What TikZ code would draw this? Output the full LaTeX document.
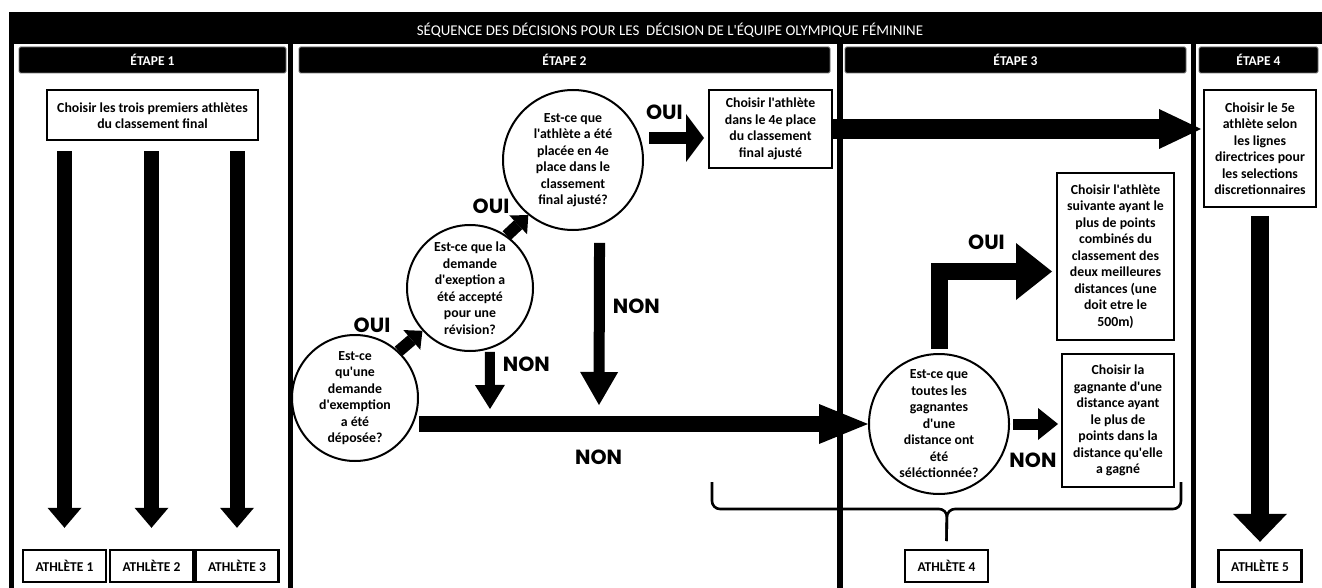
\documentclass[tikz,border=0pt]{standalone}
\usepackage{fontspec}
\setmainfont{Carlito}[Ligatures=TeXOff]
\newfontfamily\ouifont{Poppins}
\usepackage{tikz}
\usetikzlibrary{arrows.meta, positioning}

\begin{document}
\begin{tikzpicture}[x=1pt, y=-1pt]
    % Styles
    \tikzstyle{panneau} = [fill=white, draw=black, line width=0.8pt]
    \tikzstyle{etape} = [rectangle, rounded corners=1.5pt, fill=black, draw=black!55, line width=0.8pt, text=white, minimum height=26pt, text height=11pt, text depth=0pt, font=\fontsize{13.5}{15}\selectfont\bfseries]
    \tikzstyle{choix} = [rectangle, draw=black, line width=2pt, fill=white, align=center, inner sep=0pt, font=\fontsize{13.8}{16.5}\selectfont\bfseries]
    \tikzstyle{athlete} = [rectangle, draw=black, line width=2.4pt, minimum width=83pt, minimum height=32pt, font=\fontsize{13.5}{15}\selectfont\bfseries]
    \tikzstyle{question} = [circle, draw=black, line width=2pt, fill=white, inner sep=0pt]
    \tikzstyle{qtexte} = [align=center, inner sep=0pt, font=\fontsize{13.8}{16.5}\selectfont\bfseries]
    \tikzstyle{reponse} = [inner sep=0pt, font=\ouifont\bfseries\fontsize{20.5}{22}\selectfont]
    \tikzset{bloc/.style n args={3}{line width=#1, -{Triangle[width=#2, length=#3, line width=0pt]}}}

    \useasboundingbox (0,0) rectangle (1322,588);

    % Frame and columns
    \fill[black] (9,12) rectangle (1322,588);
    \draw[panneau] (13,43) rectangle (288,592);
    \draw[panneau] (292,43) rectangle (837,592);
    \draw[panneau] (842,43) rectangle (1191,592);
    \draw[panneau] (1195,43) rectangle (1326,592);

    % Title and headers
    \node[text=white, font=\fontsize{14.9}{16}\selectfont] (titre) at (670,30) {SÉQUENCE DES DÉCISIONS POUR LES~~DÉCISION DE L'ÉQUIPE OLYMPIQUE FÉMININE};
    \node[etape, minimum width=267pt] (e1) at (152.5,60) {ÉTAPE 1};
    \node[etape, minimum width=531pt] (e2) at (564.5,60) {ÉTAPE 2};
    \node[etape, minimum width=341pt] (e3) at (1015.5,60) {ÉTAPE 3};
    \node[etape, minimum width=119pt] (e4) at (1258.5,60) {ÉTAPE 4};

    % Nodes
    \node[choix, minimum width=211pt, minimum height=50pt] (top) at (152.5,115.5) {Choisir les trois premiers athlètes\\du classement final};
    \node[athlete] (ath1) at (64.5,566) {ATHLÈTE 1};
    \node[athlete] (ath2) at (151.5,566) {ATHLÈTE 2};
    \node[athlete] (ath3) at (237,566) {ATHLÈTE 3};
    \node[athlete] (ath4) at (946.5,566) {ATHLÈTE 4};
    \node[athlete] (ath5) at (1260,566) {ATHLÈTE 5};

    \node[question, minimum size=126pt] (q1) at (355,398) {};
    \node[qtexte] at (q1) {Est-ce\\qu'une\\demande\\d'exemption\\a été\\déposée?};
    \node[question, minimum size=126pt] (q2) at (470,288) {};
    \node[qtexte] at (q2) {Est-ce que la\\demande\\d'exeption a\\été accepté\\pour une\\révision?};
    \node[question, minimum size=140pt] (q3) at (573,160) {};
    \node[qtexte] at (q3) {Est-ce que\\l'athlète a été\\placée en 4e\\place dans le\\classement\\final ajusté?};
    \node[question, minimum size=140pt] (q4) at (939,424) {};
    \node[qtexte] at (q4) {Est-ce que\\toutes les\\gagnantes\\d'une\\distance ont\\été\\séléctionnée?};

    \node[choix, minimum width=123pt, minimum height=78pt] (quatre) at (770.5,129) {Choisir l'athlète\\dans le 4e place\\du classement\\final ajusté};
    \node[choix, minimum width=112pt, minimum height=117pt] (cinq) at (1260,148.5) {Choisir le 5e\\athlète selon\\les lignes\\directrices pour\\les selections\\discretionnaires};
    \node[choix, minimum width=117pt, minimum height=167pt] (suiv) at (1115.5,256.5) {Choisir l'athlète\\suivante ayant le\\plus de points\\combinés du\\classement des\\deux meilleures\\distances (une\\doit etre le\\500m)};
    \node[choix, minimum width=112pt, minimum height=133pt] (gagn) at (1118,420.5) {Choisir la\\gagnante d'une\\distance ayant\\le plus de\\points dans la\\distance qu'elle\\a gagné};

    \coordinate (n1) at (490,409);
    \coordinate (n2) at (599,405);

    % Arrows
    \draw[bloc={15pt}{34pt}{20pt}, shorten <=10pt, shorten >=21pt] (top.south -| ath1.north) -- (ath1.north);
    \draw[bloc={15pt}{34pt}{20pt}, shorten <=10pt, shorten >=21pt] (top.south -| ath2.north) -- (ath2.north);
    \draw[bloc={15pt}{34pt}{20pt}, shorten <=10pt, shorten >=21pt] (top.south -| ath3.north) -- (ath3.north);

    \draw[bloc={12pt}{26pt}{14pt}] (q1.47) -- (q2.222);
    \node[reponse] (oui1) at (372,325) {OUI};
    \draw[bloc={12pt}{26pt}{14pt}] (q2.55) -- (q3.231);
    \node[reponse] (oui2) at (491,206) {OUI};
    \draw[bloc={12pt}{48pt}{18pt}] ([shift={(5,-22)}]q3.east) -- node[reponse, pos=.28, anchor=south, yshift=12pt] {OUI} ([shift={(-4,9)}]quatre.west);
    \draw[bloc={20pt}{40pt}{42pt}, shorten >=2pt] (quatre.east) -- (quatre.east -| cinq.west);

    \draw[bloc={10pt}{30pt}{24pt}, shorten <=3pt] (q2.-72) -- node[reponse, pos=.25, anchor=west, xshift=8pt] {NON} (n1);
    \draw[bloc={11pt}{38pt}{33pt}, shorten <=17pt] (q3.-68) -- node[reponse, pos=.45, anchor=west, xshift=8pt] {NON} (n2);
    \draw[bloc={16pt}{40pt}{49pt}] (q4.west -| q1.east) -- node[reponse, pos=.4, anchor=north, yshift=-18pt] {NON} (q4.west);

    \draw[bloc={17pt}{57pt}{36pt}, shorten <=4pt] (q4.north) |- node[reponse, pos=.71, anchor=south, yshift=13pt] {OUI} ([shift={(-4,15)}]suiv.west);
    \draw[bloc={11pt}{32pt}{20pt}, shorten <=3pt, shorten >=3pt] (q4.east) -- node[reponse, pos=.45, anchor=north, yshift=-23pt] {NON} (q4.east -| gagn.west);
    \draw[bloc={18pt}{54pt}{28pt}, shorten <=8pt, shorten >=7pt] (cinq.south) -- (ath5.north);

    % Brace
    \draw[line width=2.6pt, rounded corners=8pt] (712,482) -- (712,509) -- (947,509) -- (ath4.north |- 0,541);
    \draw[line width=2.6pt, rounded corners=8pt] (1181,482) -- (1181,509) -- (947,509) -- (ath4.north |- 0,541);
\end{tikzpicture}
\end{document}
